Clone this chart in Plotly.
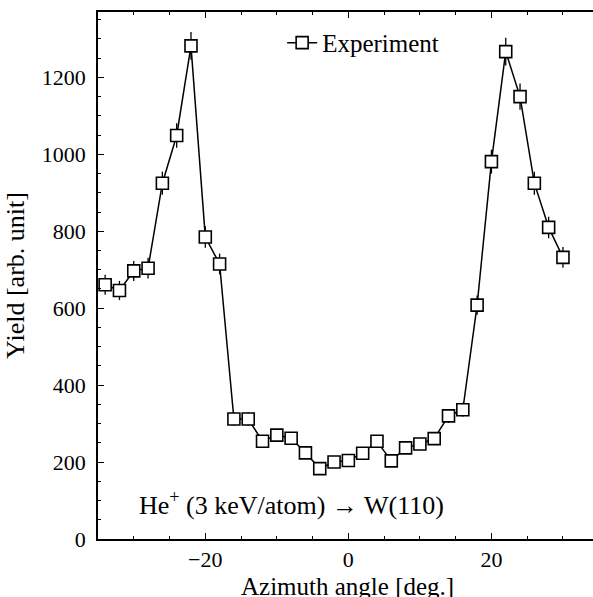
import plotly.graph_objects as go

angle = [-34, -32, -30, -28, -26, -24, -22, -20, -18, -16, -14, -12, -10, -8, -6, -4, -2,
         0, 2, 4, 6, 8, 10, 12, 14, 16, 18, 20, 22, 24, 26, 28, 30]
yield_ = [661, 646, 697, 704, 925, 1049, 1282, 785, 715, 312, 312, 254, 270, 262, 224, 183, 200,
          204, 223, 254, 203, 237, 247, 261, 320, 336, 608, 981, 1267, 1150, 925, 810, 732]
err = [26, 25, 26, 27, 30, 32, 36, 28, 27, 18, 18, 16, 16, 16, 15, 14, 14,
       14, 15, 16, 14, 15, 16, 16, 18, 18, 25, 31, 36, 34, 30, 28, 27]

FONT = "Liberation Serif"

fig = go.Figure()
fig.add_trace(go.Scatter(
    x=angle, y=yield_, mode="lines+markers", name="Experiment",
    line=dict(color="black", width=1.5),
    marker=dict(symbol="square", size=12, color="white", line=dict(color="black", width=1.6)),
    error_y=dict(type="data", array=err, color="black", thickness=1.3, width=0),
))

fig.add_annotation(
    text="He<sup>+</sup> (3 keV/atom) → W(110)",
    xref="paper", yref="paper", x=0.39, y=0.068, xanchor="center", yanchor="middle",
    showarrow=False,
    font=dict(family=FONT, size=26, color="black"),
)
fig.add_annotation(
    text="Azimuth angle [deg.]",
    xref="paper", yref="paper", x=0.505, y=-0.091, xanchor="center", yanchor="middle",
    showarrow=False,
    font=dict(family=FONT, size=25, color="black"),
)

fig.update_layout(
    width=593, height=597,
    margin=dict(l=98, r=0, t=12, b=58),
    paper_bgcolor="white", plot_bgcolor="white",
    font=dict(family=FONT, size=22, color="black"),
    showlegend=True,
    legend=dict(x=0.372, y=0.985, xanchor="left", yanchor="top",
                bgcolor="rgba(0,0,0,0)", font=dict(family=FONT, size=25)),
)
fig.update_xaxes(
    range=[-35, 34.2], tickvals=[-20, 0, 20], ticktext=["−20", "0", "20"],
    ticks="inside", ticklen=6, tickwidth=1.2, tickcolor="black",
    minor=dict(dtick=5, tick0=0, ticks="inside", ticklen=3, tickcolor="black"),
    showline=True, linecolor="black", linewidth=1.5, mirror="ticks",
    showgrid=False, zeroline=False, automargin=False,
)
fig.update_yaxes(
    range=[0, 1370], tickvals=[0, 200, 400, 600, 800, 1000, 1200],
    ticks="inside", ticklen=6, tickwidth=1.2, tickcolor="black",
    minor=dict(dtick=50, tick0=0, ticks="inside", ticklen=3, tickcolor="black"),
    showline=True, linecolor="black", linewidth=1.5, mirror=False,
    showgrid=False, zeroline=False, ticklabelstandoff=6,
    title=dict(text="Yield [arb. unit]", standoff=10),
)

fig.write_html("out.html")
